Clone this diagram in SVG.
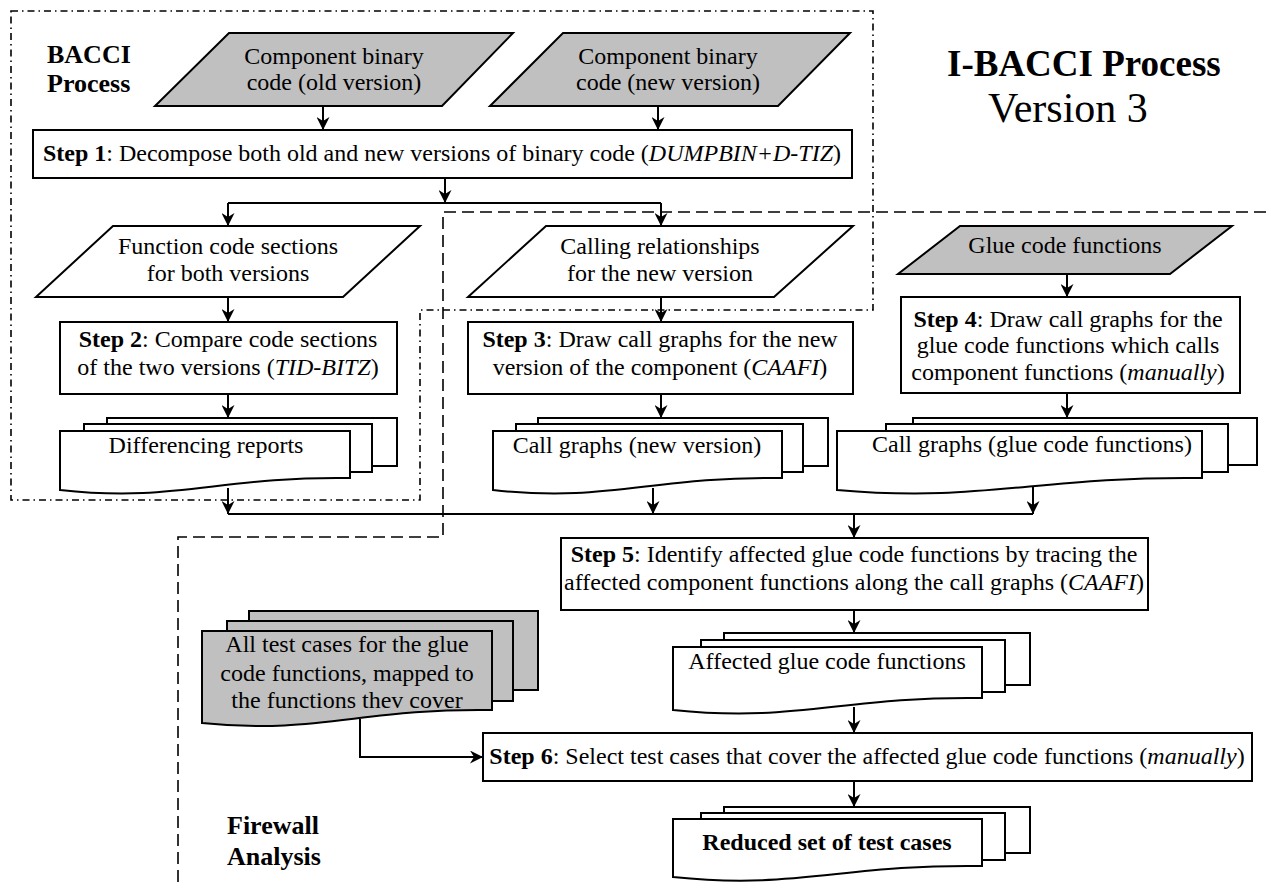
<svg xmlns="http://www.w3.org/2000/svg" width="1266" height="888" viewBox="0 0 1266 888">
<style>
text{font-family:"Liberation Serif","Times New Roman",serif;font-size:24px;fill:#000}
.c{text-anchor:middle}
.b{font-weight:bold}
.i{font-style:italic}
.shape{stroke:#000;stroke-width:2;fill:#fff}
.gray{fill:#c0c0c0}
.conn{stroke:#000;stroke-width:2;fill:none}
.dd{stroke:#000;stroke-width:1.6;fill:none;stroke-dasharray:7 4 1.5 4}
.da{stroke:#000;stroke-width:1.6;fill:none;stroke-dasharray:12 6}
</style>
<defs>
<marker id="ah" markerUnits="userSpaceOnUse" markerWidth="13" markerHeight="13" viewBox="0 0 13 13" refX="13" refY="6.5" orient="auto">
<path d="M0,0 L13,6.5 L0,13 L4,6.5 z" fill="#000"/>
</marker>
</defs>
<rect width="1266" height="888" fill="#fff"/>

<g id="regions">
<path class="dd" d="M11,11 H873 V310 H420 V500 H11 Z"/>
<path class="da" d="M1266,212 H443 V537 H178 V888"/>
</g>

<g id="titles">
<text x="47" y="63" class="b" style="font-size:26px">BACCI</text>
<text x="47" y="92" class="b" style="font-size:26px">Process</text>
<text x="947" y="76" class="b" style="font-size:37px">I-BACCI Process</text>
<text x="988" y="122" style="font-size:42px">Version 3</text>
<text x="227" y="834" class="b" style="font-size:26px">Firewall</text>
<text x="227" y="865" class="b" style="font-size:26px">Analysis</text>
</g>

<g id="n-old">
<polygon class="shape gray" points="229,33 513,33 442,106 155,106"/>
<text x="334" y="64" class="c">Component binary</text>
<text x="334" y="90" class="c">code (old version)</text>
</g>

<g id="n-new">
<polygon class="shape gray" points="563,33 850,33 778,106 490,106"/>
<text x="668" y="64" class="c">Component binary</text>
<text x="668" y="90" class="c">code (new version)</text>
</g>

<g id="n-step1">
<rect class="shape" x="33" y="130" width="819" height="48"/>
<text x="442" y="161" class="c"><tspan class="b">Step 1</tspan>: Decompose both old and new versions of binary code (<tspan class="i">DUMPBIN+D-TIZ</tspan>)</text>
</g>

<g id="n-func">
<polygon class="shape" points="113,226 420,226 343,297 36,297"/>
<text x="228" y="254" class="c">Function code sections</text>
<text x="228" y="281" class="c">for both versions</text>
</g>

<g id="n-calling">
<polygon class="shape" points="546,226 853,226 774,297 468,297"/>
<text x="660" y="254" class="c">Calling relationships</text>
<text x="660" y="281" class="c">for the new version</text>
</g>

<g id="n-glue">
<polygon class="shape gray" points="960,226 1232,226 1170,274 898,274"/>
<text x="1065" y="253" class="c">Glue code functions</text>
</g>

<g id="n-step2">
<rect class="shape" x="60" y="322" width="337" height="72"/>
<text x="228" y="347" class="c"><tspan class="b">Step 2</tspan>: Compare code sections</text>
<text x="228" y="375" class="c">of the two versions (<tspan class="i">TID-BITZ</tspan>)</text>
</g>

<g id="n-step3">
<rect class="shape" x="468" y="322" width="385" height="72"/>
<text x="660" y="347" class="c"><tspan class="b">Step 3</tspan>: Draw call graphs for the new</text>
<text x="660" y="375" class="c">version of the component (<tspan class="i">CAAFI</tspan>)</text>
</g>

<g id="n-step4">
<rect class="shape" x="901" y="297" width="339" height="96"/>
<text x="1068" y="327" class="c"><tspan class="b">Step 4</tspan>: Draw call graphs for the</text>
<text x="1068" y="353" class="c">glue code functions which calls</text>
<text x="1068" y="380" class="c">component functions (<tspan class="i">manually</tspan>)</text>
</g>

<g id="n-diff">
<rect class="shape" x="107" y="418" width="290" height="48"/>
<rect class="shape" x="84" y="424" width="288" height="48"/>
<path class="shape" d="M60,431 H350 V478 C220,476 176,503 60,490 Z"/>
<text x="206" y="453" class="c">Differencing reports</text>
</g>

<g id="n-cgnew">
<rect class="shape" x="538" y="418" width="290" height="48"/>
<rect class="shape" x="516" y="424" width="287" height="48"/>
<path class="shape" d="M493,431 H782 V478 C652,476 609,503 493,490 Z"/>
<text x="637" y="453" class="c">Call graphs (new version)</text>
</g>

<g id="n-cgglue">
<rect class="shape" x="913" y="418" width="344" height="47"/>
<rect class="shape" x="886" y="424" width="342" height="48"/>
<path class="shape" d="M837,431 H1202 V478 C1038,476 983,503 837,490 Z"/>
<text x="1032" y="452" class="c">Call graphs (glue code functions)</text>
</g>

<g id="n-step5">
<rect class="shape" x="561" y="538" width="587" height="72"/>
<text x="854" y="562" class="c"><tspan class="b">Step 5</tspan>: Identify affected glue code functions by tracing the</text>
<text x="854" y="590" class="c">affected component functions along the call graphs (<tspan class="i">CAAFI</tspan>)</text>
</g>

<g id="n-alltests">
<rect class="shape gray" x="249" y="611" width="289" height="79"/>
<rect class="shape gray" x="227" y="621" width="286" height="80"/>
<path class="shape gray" d="M202,631 H492 V710 C362,708 318,735 202,723 Z"/>
<text x="347" y="652" class="c">All test cases for the glue</text>
<text x="347" y="681" class="c">code functions, mapped to</text>
<text x="347" y="708" class="c">the functions thev cover</text>
</g>

<g id="n-affected">
<rect class="shape" x="724" y="633" width="306" height="52"/>
<rect class="shape" x="701" y="640" width="304" height="52"/>
<path class="shape" d="M673,647 H982 V698 C843,696 797,723 673,710 Z"/>
<text x="827" y="669" class="c">Affected glue code functions</text>
</g>

<g id="n-step6">
<rect class="shape" x="483" y="733" width="769" height="48"/>
<text x="867" y="764" class="c"><tspan class="b">Step 6</tspan>: Select test cases that cover the affected glue code functions (<tspan class="i">manually</tspan>)</text>
</g>

<g id="n-reduced">
<rect class="shape" x="724" y="807" width="306" height="46"/>
<rect class="shape" x="701" y="813" width="304" height="47"/>
<path class="shape" d="M673,819 H982 V866 C843,864 797,890 673,877 Z"/>
<text x="827" y="850" class="c b">Reduced set of test cases</text>
</g>

<g id="connectors">
<path class="conn" d="M323,106 V130" marker-end="url(#ah)"/>
<path class="conn" d="M658,106 V130" marker-end="url(#ah)"/>
<path class="conn" d="M445,178 V203" marker-end="url(#ah)"/>
<path class="conn" d="M228,203 H661"/>
<path class="conn" d="M228,203 V226" marker-end="url(#ah)"/>
<path class="conn" d="M661,203 V226" marker-end="url(#ah)"/>
<path class="conn" d="M228,297 V322" marker-end="url(#ah)"/>
<path class="conn" d="M661,297 V322" marker-end="url(#ah)"/>
<path class="conn" d="M1067,274 V297" marker-end="url(#ah)"/>
<path class="conn" d="M228,394 V418" marker-end="url(#ah)"/>
<path class="conn" d="M661,394 V418" marker-end="url(#ah)"/>
<path class="conn" d="M1067,393 V418" marker-end="url(#ah)"/>
<path class="conn" d="M228,488 V514" marker-end="url(#ah)"/>
<path class="conn" d="M653,488 V514" marker-end="url(#ah)"/>
<path class="conn" d="M1033,487 V514" marker-end="url(#ah)"/>
<path class="conn" d="M228,514 H1033"/>
<path class="conn" d="M854,514 V538" marker-end="url(#ah)"/>
<path class="conn" d="M854,610 V633" marker-end="url(#ah)"/>
<path class="conn" d="M854,707 V733" marker-end="url(#ah)"/>
<path class="conn" d="M360,719 V757 H483" marker-end="url(#ah)"/>
<path class="conn" d="M854,781 V807" marker-end="url(#ah)"/>
</g>
</svg>
